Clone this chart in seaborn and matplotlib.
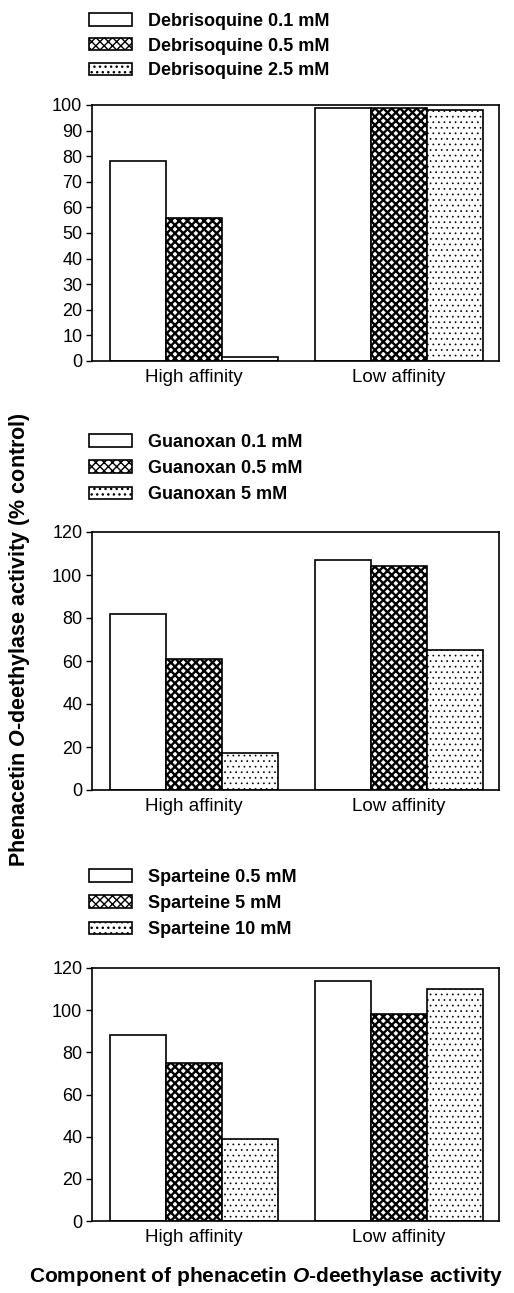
import matplotlib
matplotlib.use('Agg')
import matplotlib.pyplot as plt
import seaborn as sns
import pandas as pd

categories = ['High affinity', 'Low affinity']

debrisoquine_labels = ['Debrisoquine 0.1 mM', 'Debrisoquine 0.5 mM', 'Debrisoquine 2.5 mM']
debrisoquine_high = [78, 56, 1.5]
debrisoquine_low = [99, 99, 98]

guanoxan_labels = ['Guanoxan 0.1 mM', 'Guanoxan 0.5 mM', 'Guanoxan 5 mM']
guanoxan_high = [82, 61, 17]
guanoxan_low = [107, 104, 65]

sparteine_labels = ['Sparteine 0.5 mM', 'Sparteine 5 mM', 'Sparteine 10 mM']
sparteine_high = [88, 75, 39]
sparteine_low = [114, 98, 110]

yticks_debrisoquine = [0, 10, 20, 30, 40, 50, 60, 70, 80, 90, 100]
yticks_other = [0, 20, 40, 60, 80, 100, 120]

x_title = r'Component of phenacetin $\mathit{O}$-deethylase activity'
y_title = r'Phenacetin $\mathit{O}$-deethylase activity (% control)'

sns.set_theme(style='white')
plt.rcParams['font.family'] = ['Liberation Sans', 'DejaVu Sans']
plt.rcParams['mathtext.fontset'] = 'custom'
plt.rcParams['mathtext.rm'] = 'Liberation Sans:bold'
plt.rcParams['mathtext.it'] = 'Liberation Sans:italic:bold'
plt.rcParams['mathtext.bf'] = 'Liberation Sans:bold'
for k in ['text.color', 'axes.labelcolor', 'xtick.color', 'ytick.color', 'axes.edgecolor']:
    plt.rcParams[k] = 'black'

hatches = ['', 'xxxx', '...']
hatch_lw = [1.0, 1.7, 0.5]

fig = plt.figure(figsize=(5.14, 12.93), dpi=100)

left = 92 / 514
width = 407 / 514
H = 1293.0

panels = [
    (debrisoquine_labels, debrisoquine_high, debrisoquine_low, yticks_debrisoquine, 100, 105, 361, 13, 0.42),
    (guanoxan_labels, guanoxan_high, guanoxan_low, yticks_other, 120, 532, 790, 434, 0.5),
    (sparteine_labels, sparteine_high, sparteine_low, yticks_other, 120, 968, 1221, 869, 0.5),
]

for labels, high, low, yticks, ymax, ytop, ybot, legtop, lspace in panels:
    ax = fig.add_axes([left, 1 - ybot / H, width, (ybot - ytop) / H])
    df = pd.DataFrame({
        'component': [categories[0]] * 3 + [categories[1]] * 3,
        'treatment': labels + labels,
        'value': list(high) + list(low),
    })
    sns.barplot(data=df, x='component', y='value', hue='treatment',
                hue_order=labels, order=categories,
                palette=['white'] * 3, edgecolor='black', linewidth=1.2,
                width=0.82, gap=0, saturation=1, legend=False, ax=ax, errorbar=None)
    for cont, h, hl in zip(ax.containers, hatches, hatch_lw):
        for p in cont.patches:
            p.set_hatch(h)
            p.set_edgecolor('black')
            if hasattr(p, 'set_hatch_linewidth'):
                p.set_hatch_linewidth(hl)
    ax.set_ylim(0, ymax)
    ax.set_xlim(-0.5, 1.49)
    ax.set_yticks(yticks)
    ax.set_yticklabels([str(t) for t in yticks])
    ax.set_xlabel('')
    ax.set_ylabel('')
    for s in ax.spines.values():
        s.set_visible(True)
        s.set_color('black')
        s.set_linewidth(1.2)
    ax.tick_params(axis='y', left=True, direction='out', length=4, width=1.0,
                   labelsize=13, colors='black', pad=3)
    ax.tick_params(axis='x', bottom=False, length=0, labelsize=13.5, colors='black', pad=6)
    leg = ax.legend(ax.containers, labels, loc='upper left',
                    bbox_to_anchor=(89 / 514, 1 - legtop / H),
                    bbox_transform=fig.transFigure, frameon=False,
                    borderpad=0, borderaxespad=0, handlelength=2.4,
                    handleheight=0.68, handletextpad=0.85, labelspacing=lspace,
                    prop={'size': 13, 'weight': 'bold'})
    for hdl in leg.legend_handles:
        hdl.set_edgecolor('black')
        hdl.set_linewidth(1.2)
    for t in leg.get_texts():
        t.set_color('black')

fig.text(20 / 514, 1 - 640 / H, y_title, rotation=90, ha='center', va='center',
         fontsize=15.5, fontweight='bold', color='black')
fig.text(266 / 514, 1 - 1277 / H, x_title, ha='center', va='center',
         fontsize=15, fontweight='bold', color='black')

fig.savefig('out.png', dpi=100)
